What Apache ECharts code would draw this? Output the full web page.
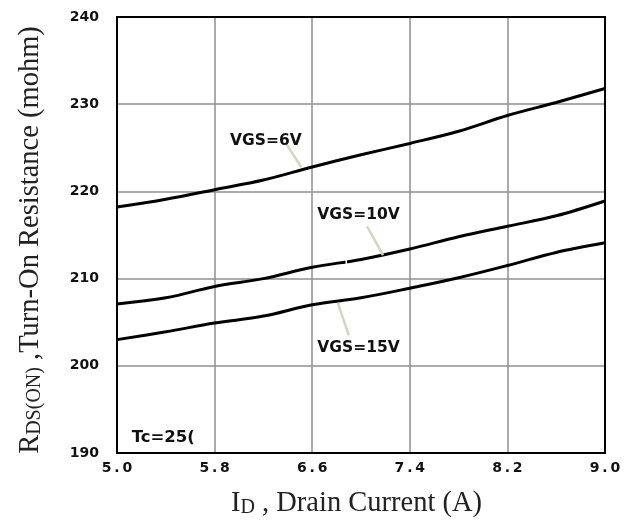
<!DOCTYPE html>
<html>
<head>
<meta charset="utf-8">
<script src="https://cdn.jsdelivr.net/npm/echarts@6/dist/echarts.min.js"></script>
<style>
html,body{margin:0;padding:0;background:#fff;}
#chart{width:633px;height:525px;}
</style>
</head>
<body>
<div id="chart"></div>
<script>
// ---- data ----
const currentA = [5.0, 5.4, 5.8, 6.2, 6.6, 7.0, 7.4, 7.8, 8.2, 8.6, 9.0];
const vgs6V  = [218.2, 219.1, 220.2, 221.3, 222.8, 224.2, 225.5, 226.9, 228.7, 230.2, 231.8];
const vgs10V = [207.1, 207.8, 209.1, 210.0, 211.3, 212.2, 213.4, 214.8, 216.0, 217.2, 218.9];
const vgs15V = [203.0, 203.9, 204.9, 205.7, 207.0, 207.8, 208.9, 210.1, 211.5, 213.0, 214.1];
const seriesNames = ['VGS=6V', 'VGS=10V', 'VGS=15V'];
const xTicks = {min: 5.0, max: 9.0, step: 0.8};
const yTicks = {min: 190, max: 240, step: 10};
// annotation anchors (data coordinates)
const labelPos = [[6.22, 225.8], [6.98, 217.35], [6.98, 202.0]];
const leaderLines = [
  [[6.39, 225.4], [6.51, 222.8]],
  [[7.05, 216.0], [7.18, 212.7]],
  [[6.81, 207.2], [6.90, 203.5]]
];
const gapMark = [[6.876, 212.4], [6.884, 211.2]];
const noteText = 'Tc=25(';
const notePos = [5.12, 191.7];

const chart = echarts.init(document.getElementById('chart'), null, {renderer: 'canvas'});
const pair = (ys) => currentA.map((x, i) => [x, ys[i]]);
const tickFont = {fontFamily: 'DejaVu Sans', fontWeight: 'bold', fontSize: 14, color: '#111'};
const noteFont = {fontFamily: 'DejaVu Sans', fontWeight: 'bold', fontSize: 15.5, color: '#111'};
const serif = "'Liberation Serif','Times New Roman',serif";
const titleColor = '#222';

function lineSeries(name, ys, idx) {
  const lines = [[{coord: leaderLines[idx][0]}, {coord: leaderLines[idx][1]}]];
  if (idx === 1) {
    lines.push([{coord: gapMark[0], lineStyle: {color: '#fff', width: 1.5}}, {coord: gapMark[1]}]);
  }
  const points = [{coord: labelPos[idx], label: {formatter: name, position: 'inside'}}];
  if (idx === 2) {
    points.push({coord: notePos, label: {formatter: noteText, position: 'right', distance: 0, fontSize: 16.5}});
  }
  return {
    name: name,
    type: 'line',
    data: pair(ys),
    smooth: 0.35,
    showSymbol: false,
    symbol: 'none',
    lineStyle: {color: '#000', width: 3},
    z: 3,
    markLine: {
      silent: true,
      symbol: 'none',
      label: {show: false},
      lineStyle: {color: '#d8d4bd', width: 2.5, type: 'solid'},
      data: lines
    },
    markPoint: {
      silent: true,
      symbol: 'circle',
      symbolSize: 0,
      label: Object.assign({show: true}, noteFont),
      data: points
    }
  };
}

const series = [
  lineSeries(seriesNames[0], vgs6V, 0),
  lineSeries(seriesNames[1], vgs10V, 1),
  lineSeries(seriesNames[2], vgs15V, 2)
];

const titleRich = {
  big: {fontFamily: serif, fontSize: 28.5, color: titleColor, verticalAlign: 'bottom', lineHeight: 31},
  small: {fontFamily: serif, fontSize: 20, color: titleColor, verticalAlign: 'bottom', lineHeight: 31}
};

chart.setOption({
  animation: false,
  backgroundColor: '#fff',
  grid: {left: 117, right: 28, top: 17, bottom: 72, show: true, z: 10,
         backgroundColor: 'transparent', borderColor: '#000', borderWidth: 2},
  xAxis: {
    type: 'value', min: xTicks.min, max: xTicks.max, interval: xTicks.step,
    axisLine: {show: false}, axisTick: {show: false},
    splitLine: {show: true, lineStyle: {color: '#8e8e94', width: 1.5}},
    axisLabel: Object.assign({margin: 8, formatter: v => v.toFixed(1).split('').join('\u2009')}, tickFont),
    name: '{big|I}{small|D}{big| , Drain Current (A)}',
    nameLocation: 'middle', nameGap: 34,
    nameTextStyle: {padding: [0, 9, 0, 0], rich: titleRich}
  },
  yAxis: {
    type: 'value', min: yTicks.min, max: yTicks.max, interval: yTicks.step,
    axisLine: {show: false}, axisTick: {show: false},
    splitLine: {show: true, lineStyle: {color: '#8e8e94', width: 1.5}},
    axisLabel: Object.assign({margin: 18}, tickFont),
    name: '{big|R}{small|DS(ON)}{big| ,Turn-On Resistance (mohm)}',
    nameLocation: 'middle', nameGap: 72, nameRotate: 90,
    nameTextStyle: {padding: [0, 10, 0, 0], rich: titleRich}
  },
  series: series
});
</script>
</body>
</html>
